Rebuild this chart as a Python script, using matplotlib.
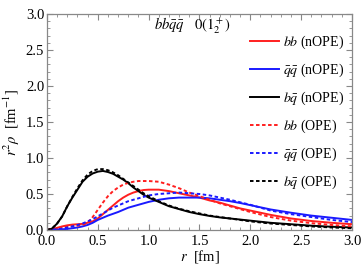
import matplotlib
matplotlib.use("Agg")
import matplotlib.pyplot as plt
from matplotlib.ticker import MultipleLocator

plt.rcParams['font.family'] = ['Liberation Serif', 'DejaVu Serif']
plt.rcParams['mathtext.fontset'] = 'stix'

# radial grid (fm) for the densities
r = [0.0, 0.05, 0.1, 0.15, 0.2, 0.25, 0.3, 0.35, 0.4, 0.45, 0.5, 0.55, 0.6, 0.65,
     0.7, 0.75, 0.8, 0.85, 0.9, 0.95, 1.0, 1.1, 1.2, 1.3, 1.4, 1.5, 1.6, 1.7, 1.8,
     1.9, 2.0, 2.2, 2.4, 2.6, 2.8, 3.0]

# nOPE
bb_nope = [0.0, 0.01, 0.03, 0.05, 0.065, 0.075, 0.08, 0.085, 0.10, 0.12, 0.16, 0.22,
           0.28, 0.34, 0.40, 0.45, 0.49, 0.52, 0.54, 0.555, 0.56, 0.56, 0.54, 0.51,
           0.48, 0.45, 0.41, 0.38, 0.34, 0.30, 0.27, 0.21, 0.16, 0.125, 0.10, 0.08]
qq_nope = [0.0, 0.002, 0.005, 0.01, 0.015, 0.025, 0.035, 0.05, 0.07, 0.10, 0.14, 0.17,
           0.20, 0.225, 0.25, 0.28, 0.31, 0.33, 0.35, 0.37, 0.39, 0.42, 0.44, 0.45,
           0.45, 0.45, 0.44, 0.42, 0.40, 0.375, 0.345, 0.285, 0.24, 0.20, 0.17, 0.14]
bq_nope = [0.0, 0.02, 0.09, 0.19, 0.33, 0.45, 0.56, 0.67, 0.74, 0.785, 0.81, 0.82,
           0.805, 0.78, 0.74, 0.70, 0.65, 0.59, 0.54, 0.49, 0.45, 0.39, 0.33, 0.29,
           0.25, 0.22, 0.195, 0.175, 0.16, 0.145, 0.13, 0.10, 0.08, 0.06, 0.045, 0.035]

# OPE
bb_ope = [0.0, 0.01, 0.02, 0.035, 0.05, 0.055, 0.06, 0.07, 0.10, 0.18, 0.28, 0.38,
          0.47, 0.54, 0.59, 0.63, 0.655, 0.67, 0.68, 0.68, 0.68, 0.67, 0.63, 0.58,
          0.52, 0.47, 0.42, 0.37, 0.33, 0.29, 0.25, 0.18, 0.13, 0.095, 0.07, 0.05]
qq_ope = [0.0, 0.005, 0.01, 0.02, 0.035, 0.05, 0.07, 0.09, 0.12, 0.15, 0.19, 0.23,
          0.27, 0.31, 0.34, 0.37, 0.40, 0.42, 0.44, 0.46, 0.48, 0.50, 0.51, 0.52,
          0.51, 0.50, 0.48, 0.45, 0.42, 0.385, 0.35, 0.27, 0.22, 0.18, 0.14, 0.11]
bq_ope = [0.0, 0.02, 0.09, 0.19, 0.33, 0.46, 0.58, 0.69, 0.77, 0.82, 0.845, 0.845,
          0.83, 0.80, 0.76, 0.71, 0.66, 0.61, 0.56, 0.51, 0.47, 0.40, 0.34, 0.295,
          0.26, 0.23, 0.20, 0.18, 0.16, 0.14, 0.12, 0.09, 0.07, 0.05, 0.035, 0.025]

red, blue = '#ff1f1f', '#1a1aff'
dash = (0, (1.8, 1.3))

fig = plt.figure(figsize=(3.64, 2.73), dpi=100)
ax = fig.add_axes([0.129, 0.1575, 0.838, 0.7915])

ax.plot(r, bb_nope, color=red, lw=1.4, label=r'$bb$ (nOPE)')
ax.plot(r, qq_nope, color=blue, lw=1.4, label=r'$\bar{q}\bar{q}$ (nOPE)')
ax.plot(r, bq_nope, color='black', lw=1.4, label=r'$b\bar{q}$ (nOPE)')
ax.plot(r, bb_ope, color=red, lw=1.4, ls=dash, label=r'$bb$ (OPE)')
ax.plot(r, qq_ope, color=blue, lw=1.4, ls=dash, label=r'$\bar{q}\bar{q}$ (OPE)')
ax.plot(r, bq_ope, color='black', lw=1.4, ls=dash, label=r'$b\bar{q}$ (OPE)')

ax.set_xlim(0, 3)
ax.set_ylim(0, 3)
ax.xaxis.set_major_locator(MultipleLocator(0.5))
ax.xaxis.set_minor_locator(MultipleLocator(0.1))
ax.yaxis.set_major_locator(MultipleLocator(0.5))
ax.yaxis.set_minor_locator(MultipleLocator(0.1))
ax.xaxis.set_major_formatter(lambda v, p: f'{v:.1f}')
ax.yaxis.set_major_formatter(lambda v, p: f'{v:.1f}')
ax.tick_params(which='both', direction='in', top=True, right=True, color='#888888',
               labelsize=10.5)
ax.tick_params(axis='x', pad=3.5)
ax.tick_params(axis='y', pad=2)
ax.tick_params(which='major', length=4, width=0.8)
ax.tick_params(which='minor', length=2, width=0.6)
for s in ax.spines.values():
    s.set_color('#888888')
    s.set_linewidth(0.9)

ax.set_xlabel(r'$r$  [fm]', fontsize=10.5, labelpad=0)
ax.set_ylabel(r'$r^2\rho$  [fm$^{-1}$]', fontsize=10.5, labelpad=3)

ax.text(1.43, 2.83, r'$bb\bar{q}\bar{q}$   $0(1^+_2)$', fontsize=10.5,
        ha='center', va='center')

ax.legend(loc='upper left', bbox_to_anchor=(0.665, 0.91), frameon=False,
          fontsize=10, handlelength=2.1, handletextpad=0.3, labelspacing=0.77,
          borderpad=0, borderaxespad=0)

fig.savefig('out.png', dpi=100)
